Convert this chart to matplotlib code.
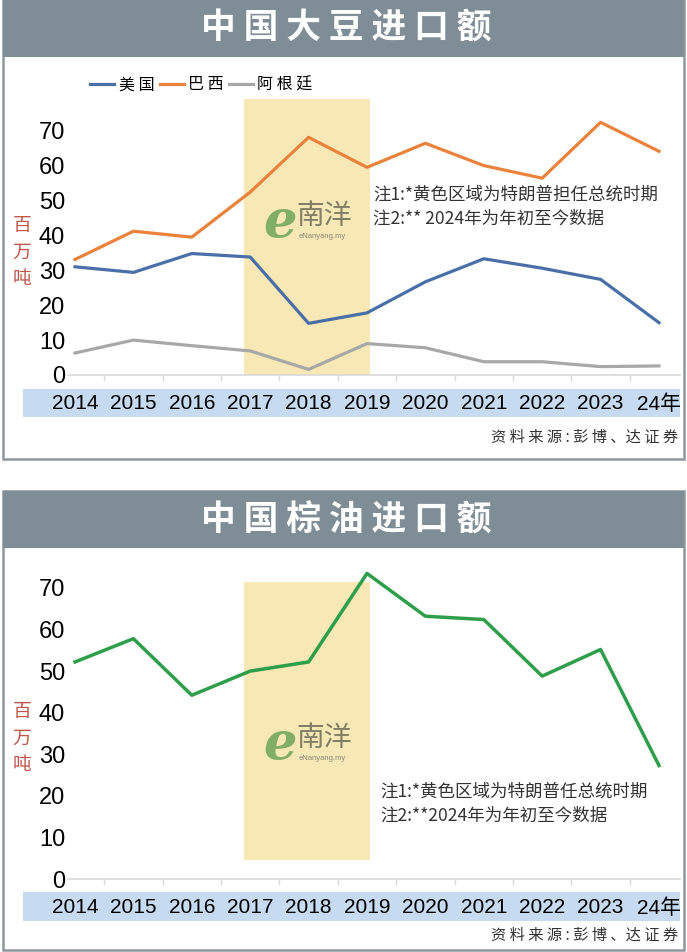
import matplotlib
matplotlib.use("Agg")
import matplotlib.pyplot as plt
from matplotlib.patches import Rectangle

plt.rcParams['font.family'] = ['Noto Sans CJK SC', 'DejaVu Sans']

# data (million tonnes)
years = ['2014', '2015', '2016', '2017', '2018', '2019', '2020', '2021', '2022', '2023', '24年']
soy_us = [31.0, 29.4, 34.8, 33.8, 14.8, 17.8, 26.7, 33.3, 30.6, 27.4, 15.0]
soy_brazil = [33.1, 41.2, 39.5, 52.4, 68.1, 59.5, 66.4, 60.0, 56.4, 72.4, 64.1]
soy_argentina = [6.3, 10.0, 8.4, 6.9, 1.6, 9.0, 7.8, 3.8, 3.8, 2.4, 2.6]
palm_oil = [52.2, 57.8, 44.2, 50.0, 52.2, 73.5, 63.2, 62.4, 48.8, 55.2, 27.3]
yticks = [0, 10, 20, 30, 40, 50, 60, 70]

W, H = 687, 952
fig = plt.figure(figsize=(W / 100, H / 100), dpi=100)
fig.patch.set_facecolor('white')

NUM = ['Liberation Sans', 'DejaVu Sans']
YEARF = ['Liberation Sans', 'Noto Sans CJK SC']
PANEL_GREY = '#7f8d97'
BAND = '#c6dbf1'


def frac(x0, y0, x1, y1):
    return [x0 / W, 1 - y1 / H, (x1 - x0) / W, (y1 - y0) / H]


def fx(x):
    return x / W


def fy(y):
    return 1 - y / H


def panel(top, bottom, title, title_y):
    fig.patches.append(Rectangle((fx(3), fy(bottom)), fx(684) - fx(3), fy(top) - fy(bottom),
                                 transform=fig.transFigure, facecolor='white',
                                 edgecolor='#8d979e', lw=1.8, zorder=0))
    fig.patches.append(Rectangle((fx(3), fy(top + 57)), fx(684) - fx(3), fy(top) - fy(top + 57),
                                 transform=fig.transFigure, facecolor=PANEL_GREY,
                                 edgecolor='none', zorder=0.5))
    fig.text(fx(346), fy(title_y), ' '.join(title), color='white', fontsize=25,
             fontweight='bold', ha='center', va='center', zorder=3)


def band(y0, y1):
    fig.patches.append(Rectangle((fx(23), fy(y1)), fx(680) - fx(23), fy(y0) - fy(y1),
                                 transform=fig.transFigure, facecolor=BAND,
                                 edgecolor='none', zorder=0.6))


def setup_axes(ax, ymax):
    ax.set_zorder(1)
    ax.set_facecolor('none')
    ax.set_xlim(-0.12, 10.36)
    ax.set_ylim(0, ymax)
    for s in ['top', 'right', 'left']:
        ax.spines[s].set_visible(False)
    ax.spines['bottom'].set_color('#d9d9d9')
    ax.spines['bottom'].set_linewidth(1.2)
    ax.set_yticks(yticks)
    ax.set_yticklabels([str(v) for v in yticks], family=NUM, fontsize=17)
    ax.tick_params(axis='y', length=0, pad=2)
    ax.set_xticks(range(len(years)))
    ax.set_xticklabels(years, family=YEARF, fontsize=15)
    ax.tick_params(axis='x', which='major', length=0, pad=14)
    ax.set_xticks([i + 0.5 for i in range(len(years) - 1)], minor=True)
    ax.tick_params(axis='x', which='minor', length=4, color='#d9d9d9', width=1)


def logo(x, y):
    fig.text(fx(x - 42), fy(y + 4), 'e', color='#6ea55a', fontsize=38, style='italic',
             fontweight='bold', family=['DejaVu Serif'], ha='center', va='center',
             alpha=0.85, zorder=3)
    fig.text(fx(x + 2), fy(y - 2), '南洋', color='#76735e', fontsize=20, ha='center',
             va='center', alpha=0.9, zorder=3)
    fig.text(fx(x), fy(y + 18), 'eNanyang.my', color='#8a8a7a', fontsize=5.5,
             ha='center', va='center', family=NUM, zorder=3)


def ylabel(x, y):
    fig.text(fx(x), fy(y), '百\n万\n吨', color='#c0564a', fontsize=13.5,
             ha='center', va='center', linespacing=1.35, zorder=3)


def notes(x, y, lines):
    for i, t in enumerate(lines):
        fig.text(fx(x), fy(y + 24 * i), t, fontsize=12.6, color='#333333',
                 va='center', ha='left', zorder=3)


def source(y):
    fig.text(fx(678), fy(y), '资 料 来 源 : 彭 博 、达 证 券', fontsize=11,
             color='#333333', va='center', ha='right', zorder=3)


x = range(len(years))

# ---------------- top chart: soybeans ----------------
panel(0, 459, '中国大豆进口额', 28)
band(389, 417)
ax1 = fig.add_axes(frac(68, 99, 680, 375))
setup_axes(ax1, (375 - 99) / 3.49)
ax1.axvspan(2.9, 5.05, color='#f7e8b5', lw=0, zorder=1)
l1, = ax1.plot(x, soy_us, color='#4a6fa8', lw=2.3, zorder=3, label='美 国')
l2, = ax1.plot(x, soy_brazil, color='#e9823a', lw=2.3, zorder=3, label='巴 西')
l3, = ax1.plot(x, soy_argentina, color='#a8a8a8', lw=2.3, zorder=3, label='阿 根 廷')
fig.legend(handles=[l1, l2, l3], loc='center left', bbox_to_anchor=(fx(76), fy(85)),
           ncol=3, frameon=False, fontsize=11.5, handlelength=1.5, handletextpad=0.3,
           columnspacing=0.3)
ylabel(22, 252)
logo(322, 218)
notes(373, 195, ['注1:*黄色区域为特朗普担任总统时期', '注2:** 2024年为年初至今数据'])
source(437)

# ---------------- bottom chart: palm oil ----------------
panel(491, 950, '中国棕油进口额', 520)
band(892, 921)
ax2 = fig.add_axes(frac(68, 563, 680, 879))
setup_axes(ax2, 76)
ax2.fill_between([2.9, 5.05], 4.6, 71.4, color='#f7e8b5', lw=0, zorder=1)
ax2.plot(x, palm_oil, color='#2f9e4a', lw=2.5, zorder=3)
ylabel(22, 738)
logo(322, 740)
notes(380, 792, ['注1:*黄色区域为特朗普任总统时期', '注2:**2024年为年初至今数据'])
source(935)

fig.savefig('out.png', dpi=100)
